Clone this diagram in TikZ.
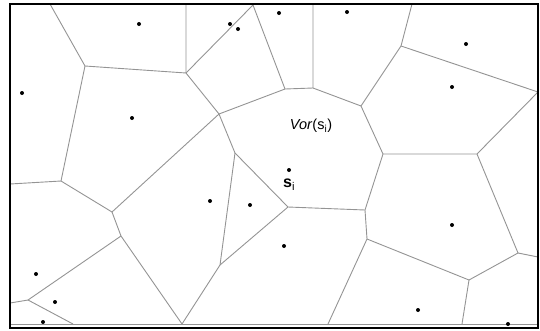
\documentclass[tikz,border=0pt]{standalone}
\usepackage{fontspec}
\setmainfont{Liberation Sans}
\begin{document}
\begin{tikzpicture}[x=1pt,y=-1pt,
  edge/.style={draw=black!42,line width=0.9pt},
  site/.style={circle,fill=black,inner sep=0pt,minimum size=4pt},
  frame/.style={draw=black,line width=2pt}]
\useasboundingbox (0,0) rectangle (540,330);
% boundary points
\coordinate (t1) at (50,4);
\coordinate (t2) at (186,4);
\coordinate (t3) at (253,5);
\coordinate (t4) at (313,4);
\coordinate (t5) at (412,4);
\coordinate (l1) at (10,184);
\coordinate (l2) at (10,303);
\coordinate (b1) at (73,324);
\coordinate (b2) at (182,324);
\coordinate (b3) at (328,324);
\coordinate (b4) at (462,324);
\coordinate (r1) at (538,257);
\coordinate (J) at (538,92);
% vertices
\coordinate (A) at (85,66);
\coordinate (C) at (186,73);
\coordinate (B) at (219,114);
\coordinate (D) at (285,89);
\coordinate (E) at (313,88);
\coordinate (G) at (361,106);
\coordinate (F) at (401,46);
\coordinate (H) at (383,154);
\coordinate (I) at (477,154);
\coordinate (K) at (518,253);
\coordinate (L) at (469,280);
\coordinate (M) at (367,239);
\coordinate (N) at (365,210);
\coordinate (O) at (288,207);
\coordinate (Q) at (235,153);
\coordinate (P) at (220,265);
\coordinate (R) at (112,212);
\coordinate (S) at (61,181);
\coordinate (T) at (121,236);
\coordinate (U) at (28,300);
% inner bottom line
\coordinate (bl) at (10,324);
\coordinate (br) at (538,324);
\draw[edge] (bl) -- (br);
% edges
\draw[edge] (t1) -- (A) -- (C) -- (t2);
\draw[edge] (C) -- (t3) -- (D) -- (E) -- (t4);
\draw[edge] (C) -- (B) -- (D);
\draw[edge] (E) -- (G) -- (F) -- (t5);
\draw[edge] (F) -- (J) -- (I) -- (H) -- (G);
\draw[edge] (I) -- (K) -- (r1);
\draw[edge] (K) -- (L) -- (M) -- (N) -- (H);
\draw[edge] (L) -- (b4);
\draw[edge] (M) -- (b3);
\draw[edge] (N) -- (O) -- (Q) -- (B);
\draw[edge] (Q) -- (P) -- (O);
\draw[edge] (P) -- (b2);
\draw[edge] (B) -- (R) -- (S) -- (A);
\draw[edge] (S) -- (l1);
\draw[edge] (R) -- (T) -- (b2);
\draw[edge] (T) -- (U) -- (l2);
\draw[edge] (U) -- (b1);
% sites
\node[site] (p1) at (139,24) {};
\node[site] (p2) at (22,93) {};
\node[site] (p3) at (132,118) {};
\node[site] (p4) at (230,24) {};
\node[site] (p5) at (238,29) {};
\node[site] (p6) at (279,13) {};
\node[site] (p7) at (347,12) {};
\node[site] (p8) at (466,44) {};
\node[site] (p9) at (452,87) {};
\node[site] (p10) at (36,274) {};
\node[site] (p11) at (55,302) {};
\node[site] (p12) at (43,322) {};
\node[site] (si) at (289,170) {};
\node[site] (p14) at (210,201) {};
\node[site] (p15) at (250,205) {};
\node[site] (p16) at (284,246) {};
\node[site] (p17) at (452,225) {};
\node[site] (p18) at (418,310) {};
\node[site] (p19) at (508,324) {};
% labels
\node[font=\fontsize{14.5}{16}\selectfont,inner sep=0pt] (vor) at (311,126) {\textit{Vor}(s\textsubscript{i})};
\node[font=\fontsize{16}{18}\selectfont\bfseries,inner sep=0pt,anchor=base west] (silab) at (283,187.5) {s\textsubscript{\mdseries i}};
% frame
\coordinate (f1) at (10,4);
\coordinate (f2) at (538,327.5);
\draw[frame] (f1) rectangle (f2);
\end{tikzpicture}
\end{document}
